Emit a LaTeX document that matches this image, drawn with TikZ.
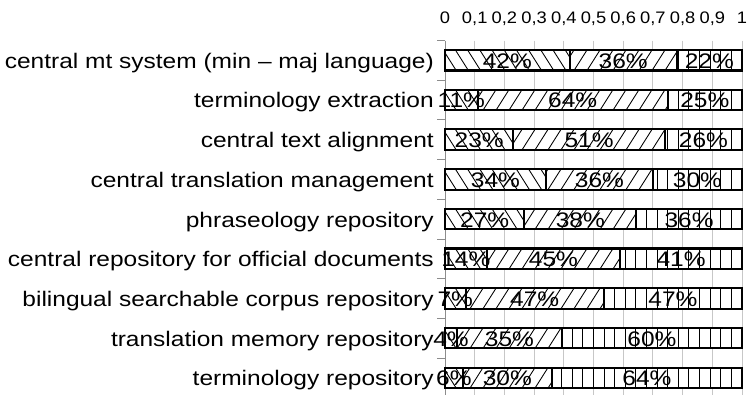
\documentclass[tikz,border=0pt]{standalone}
\usepackage{fontspec}
\newfontfamily\labfont[FakeStretch=1.163]{Liberation Sans}
\newfontfamily\axfont[FakeStretch=1.1]{Liberation Sans}
\tikzset{
  gridline/.style={draw=black!22, line width=0.75pt},
  axisline/.style={draw=black!45, line width=0.75pt},
  barline/.style={draw=black, line width=1.6pt},
  hatchline/.style={draw=black, line width=0.65pt},
  cattext/.style={font=\labfont\fontsize{15.8}{18}\selectfont, inner sep=0pt, anchor=base east},
  pcttext/.style={font=\labfont\fontsize{15.8}{18}\selectfont, inner sep=0pt, anchor=base},
  ticktext/.style={font=\axfont\fontsize{12.5}{14}\selectfont, inner sep=0pt, anchor=base},
}
\begin{document}
\begin{tikzpicture}[x=0.75pt, y=-0.75pt]
\useasboundingbox (0,0) rectangle (748,394);
\clip (0,0) rectangle (748,394);
\fill[white] (0,0) rectangle (748,394);

% value axis: grid lines and labels 0 ... 1
\foreach \j in {1,...,10}
  \draw[gridline] ({445+29.7*\j},40.5) -- ({445+29.7*\j},400);
\foreach \t [count=\j from 0] in {0,{0,1},{0,2},{0,3},{0,4},{0,5},{0,6},{0,7},{0,8},{0,9},1}
  \node[ticktext] (tick\j) at ({445+29.7*\j},23.5) {\t};

% category axis with its tick marks
\draw[axisline] (445,40.5) -- (445,400);
\foreach \k in {0,...,9}
  \draw[axisline] (437,{40.5+39.7*\k}) -- (445,{40.5+39.7*\k});

% stacked bars: label / first / second / third share
\foreach \lab/\a/\b/\c [count=\i from 0] in {
  central mt system (min – maj language)/42/36/22,
  terminology extraction/11/64/25,
  central text alignment/23/51/26,
  central translation management/34/36/30,
  phraseology repository/27/38/36,
  central repository for official documents/14/45/41,
  bilingual searchable corpus repository/7/47/47,
  translation memory repository/4/35/60,
  terminology repository/6/30/64}
{
  \pgfmathsetmacro\s{\a+\b+\c}
  \pgfmathsetmacro\fa{\a/\s}
  \pgfmathsetmacro\fb{(\a+\b)/\s}
  \pgfmathsetmacro\xa{445+297*\fa}
  \pgfmathsetmacro\xb{445+297*\fb}
  \pgfmathsetmacro\yt{50+39.7*\i}
  \pgfmathsetmacro\yb{\yt+20.5}
  \pgfmathsetmacro\ym{\yt+10.25}
  \fill[white] (445,\yt) rectangle (742,\yb);
  % first share: downward diagonal hatching
  \begin{scope}
    \clip (445,\yt) rectangle (\xa,\yb);
    \foreach \k in {0,...,26}
      \draw[hatchline] ({431+12.2*\k},\yt) -- ++(13,20.5);
  \end{scope}
  % second share: upward diagonal hatching
  \begin{scope}
    \clip (\xa,\yt) rectangle (\xb,\yb);
    \foreach \k in {0,...,25}
      \draw[hatchline] ({431+13*\k},\yb) -- ++(13,-20.5);
  \end{scope}
  % third share: vertical hatching
  \begin{scope}
    \clip (\xb,\yt) rectangle (742,\yb);
    \foreach \k in {0,...,29}
      \draw[hatchline] ({445+10.6*\k},\yt) -- ++(0,20.5);
  \end{scope}
  \draw[barline] (445,\yt) rectangle (742,\yb);
  \draw[barline] (\xa,\yt) -- (\xa,\yb);
  \draw[barline] (\xb,\yt) -- (\xb,\yb);
  \node[cattext] (cat\i) at (434,{\ym+8}) {\lab};
  \node[pcttext] (pa\i) at ({(445+\xa)/2},{\ym+8}) {\a\%};
  \node[pcttext] (pb\i) at ({(\xa+\xb)/2},{\ym+8}) {\b\%};
  \node[pcttext] (pc\i) at ({(\xb+742)/2},{\ym+8}) {\c\%};
}
\end{tikzpicture}
\end{document}
